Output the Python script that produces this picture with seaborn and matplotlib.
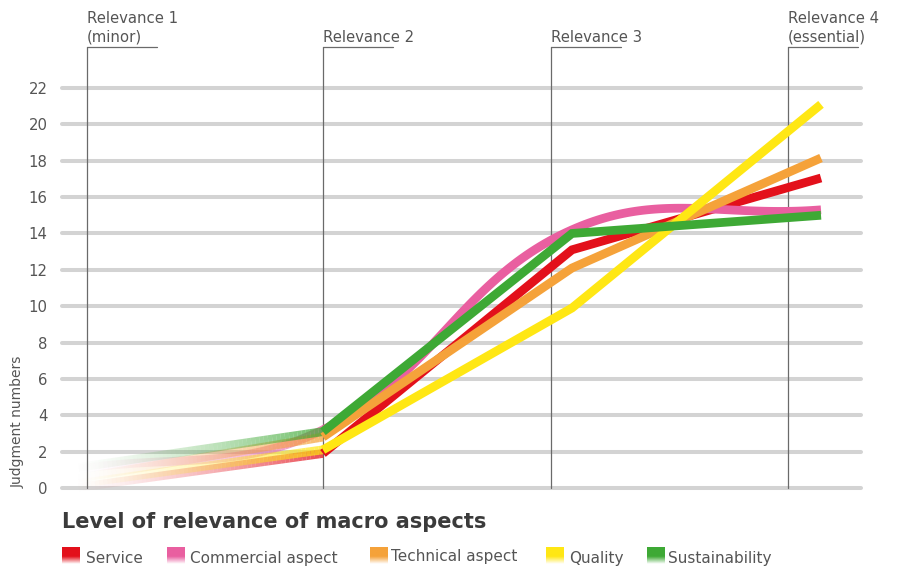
import numpy as np
import pandas as pd
import matplotlib
matplotlib.use("Agg")
import matplotlib.pyplot as plt
import seaborn as sns
from matplotlib.collections import LineCollection
from matplotlib.colors import to_rgb

# ---- data -------------------------------------------------------------
levels = ["Relevance 1\n(minor)", "Relevance 2", "Relevance 3", "Relevance 4\n(essential)"]
series = ["Service", "Commercial aspect", "Technical aspect", "Quality", "Sustainability"]
service = [0.0, 1.9, 13.1, 17.05]
commercial = [1.0, 3.2, 14.2, 15.3]
technical = [0.5, 2.8, 12.1, 18.15]
quality = [0.2, 2.1, 9.9, 21.1]
sustainability = [1.1, 3.1, 14.0, 15.0]
y_ticks = list(range(0, 23, 2))

values = dict(zip(series, [service, commercial, technical, quality, sustainability]))
palette = {
    "Service": "#e3101b",
    "Commercial aspect": "#e95fa0",
    "Technical aspect": "#f5a23a",
    "Quality": "#ffe714",
    "Sustainability": "#3ea935",
}
smoothed = {"Commercial aspect"}

# ---- layout -----------------------------------------------------------
W, H = 901, 570
PX_PER_STEP = 249.0          # horizontal distance between two levels
PX_PER_UNIT = 400.0 / 22.0   # vertical pixels per judgment
X0_PX = 74.0                 # pixel position of the first level's point
AX_L, AX_R = 62.0, 861.0
Y0_PX = 488.0
YMIN, YMAX = -0.5, 22.5

# level marker positions (in level-index units)
marker_pos = [(87 - X0_PX) / PX_PER_STEP, 1.0, (551 - X0_PX) / PX_PER_STEP, (788 - X0_PX) / PX_PER_STEP]
marker_top = (Y0_PX - 47) / PX_PER_UNIT
marker_arm = 70 / PX_PER_STEP

TEXT = "#555555"
sns.set_theme(style="white")
plt.rcParams["font.family"] = ["DejaVu Sans"]

fig = plt.figure(figsize=(W / 100, H / 100), dpi=100)
bot_px = Y0_PX - YMIN * PX_PER_UNIT
top_px = Y0_PX - YMAX * PX_PER_UNIT
ax = fig.add_axes([AX_L / W, 1 - bot_px / H, (AX_R - AX_L) / W, (bot_px - top_px) / H])


def bezier_segments(ys, tension=0.4, n=60):
    """Cubic Bezier spline through the points (control points in screen space)."""
    xs = np.arange(len(ys), dtype=float)
    pts = np.column_stack([xs * PX_PER_STEP, np.asarray(ys, float) * PX_PER_UNIT])
    m = len(pts)
    cp_in = np.zeros_like(pts)
    cp_out = np.zeros_like(pts)
    for i in range(m):
        p0, p1, p2 = pts[max(i - 1, 0)], pts[i], pts[min(i + 1, m - 1)]
        d01 = np.hypot(*(p1 - p0))
        d12 = np.hypot(*(p2 - p1))
        tot = d01 + d12
        s01 = d01 / tot if tot else 0.0
        s12 = d12 / tot if tot else 0.0
        cp_in[i] = p1 - tension * s01 * (p2 - p0)
        cp_out[i] = p1 + tension * s12 * (p2 - p0)
    t = np.linspace(0, 1, n)[:, None]
    segs = []
    for i in range(m - 1):
        a, b, c, d = pts[i], cp_out[i], cp_in[i + 1], pts[i + 1]
        cur = (1 - t) ** 3 * a + 3 * (1 - t) ** 2 * t * b + 3 * (1 - t) * t ** 2 * c + t ** 3 * d
        segs.append((cur[:, 0] / PX_PER_STEP, cur[:, 1] / PX_PER_UNIT))
    return segs


def linear_segments(ys, n=60):
    segs = []
    for i in range(len(ys) - 1):
        xx = np.linspace(i, i + 1, n)
        segs.append((xx, np.linspace(ys[i], ys[i + 1], n)))
    return segs


LW = 6.3
rows = []
faded = []
for name in series:
    ys = values[name]
    if name in smoothed:
        segs = bezier_segments(ys)
        xs_main = np.concatenate([s[0] if k == 0 else s[0][1:] for k, s in enumerate(segs[1:])])
        ys_main = np.concatenate([s[1] if k == 0 else s[1][1:] for k, s in enumerate(segs[1:])])
    else:
        segs = linear_segments(ys)
        xs_main = np.arange(1, len(ys), dtype=float)
        ys_main = np.asarray(ys[1:], float)
    faded.append((name, segs[0]))
    for xv, yv in zip(xs_main, ys_main):
        rows.append({"level": xv, "judgments": yv, "aspect": name})

df = pd.DataFrame(rows)

# gridlines
for v in y_ticks:
    ax.axhline(v, color="#d3d3d3", lw=2.9, solid_capstyle="round", zorder=0.5, clip_on=False)

# level markers with labels
for p, lab in zip(marker_pos, levels):
    ax.plot([p, p], [0, marker_top], color="#6a6a6a", lw=0.9, clip_on=False, zorder=1)
    ax.plot([p, p + marker_arm], [marker_top, marker_top], color="#6a6a6a", lw=0.9,
            clip_on=False, zorder=1)
    ax.text(p, marker_top + 2.5 / PX_PER_UNIT, lab, ha="left", va="bottom", fontsize=10.7,
            color=TEXT, linespacing=1.32, clip_on=False)

n_before = len(ax.lines)
sns.lineplot(data=df, x="level", y="judgments", hue="aspect", hue_order=series,
             palette=palette, sort=False, estimator=None, lw=LW, legend=False, ax=ax)
for ln in ax.lines[n_before:]:
    ln.set_solid_joinstyle("miter")
    ln.set_solid_capstyle("butt")
    ln.set_zorder(3)

# first segment of every line fades in from transparent
for k, (name, (fx, fy)) in enumerate(faded):
    pts = np.column_stack([fx, fy]).reshape(-1, 1, 2)
    segs = np.concatenate([pts[:-1], pts[1:]], axis=1)
    frac = np.linspace(0, 1, len(segs))
    rgb = to_rgb(palette[name])
    cols = [(*rgb, 0.74 * f ** 1.4) for f in frac]
    lc = LineCollection(segs, colors=cols, linewidths=LW, capstyle="butt", zorder=2 + 0.01 * k)
    ax.add_collection(lc)

ax.set_xlim((AX_L - X0_PX) / PX_PER_STEP, (AX_R - X0_PX) / PX_PER_STEP)
ax.set_ylim(YMIN, YMAX)
ax.set_xticks([])
ax.set_yticks(y_ticks)
ax.set_yticklabels([str(v) for v in y_ticks], fontsize=10.7, color=TEXT)
ax.tick_params(axis="y", length=0, pad=10.5)
ax.set_xlabel("")
ax.set_ylabel("")
for s in ax.spines.values():
    s.set_visible(False)
ax.patch.set_alpha(0)

fig.text(18 / W, 1 - 488 / H, "Judgment numbers", rotation=90, ha="center", va="bottom",
         fontsize=10, color=TEXT)

# ---- title and legend ---------------------------------------------------
lax = fig.add_axes([0, 0, 1, 1], zorder=-1)
lax.axis("off")
lax.text(62, 528.5, "Level of relevance of macro aspects", fontsize=15, fontweight="bold",
         color="#3b3b3b", va="baseline", ha="left")

patch_x = [62, 167, 370, 546, 647]
text_x = [86, 190, 391, 569, 668]
text_y = [563, 563, 561, 563, 563]
ramp = np.clip((np.linspace(0, 1, 40) - 0.55) / 0.45, 0, 1)[:, None]
for name, px, tx, ty in zip(series, patch_x, text_x, text_y):
    rgb = np.array(to_rgb(palette[name]))
    grad = rgb[None, :] * (1 - ramp) + np.ones(3)[None, :] * ramp
    img = np.repeat(grad[:, None, :], 4, axis=1)
    lax.imshow(img, extent=(px, px + 18, 564, 547), aspect="auto", interpolation="bilinear")
    lax.text(tx, ty, name, fontsize=11, color=TEXT, va="baseline", ha="left")
lax.set_xlim(0, W)
lax.set_ylim(H, 0)

fig.savefig("out.png", dpi=100)
